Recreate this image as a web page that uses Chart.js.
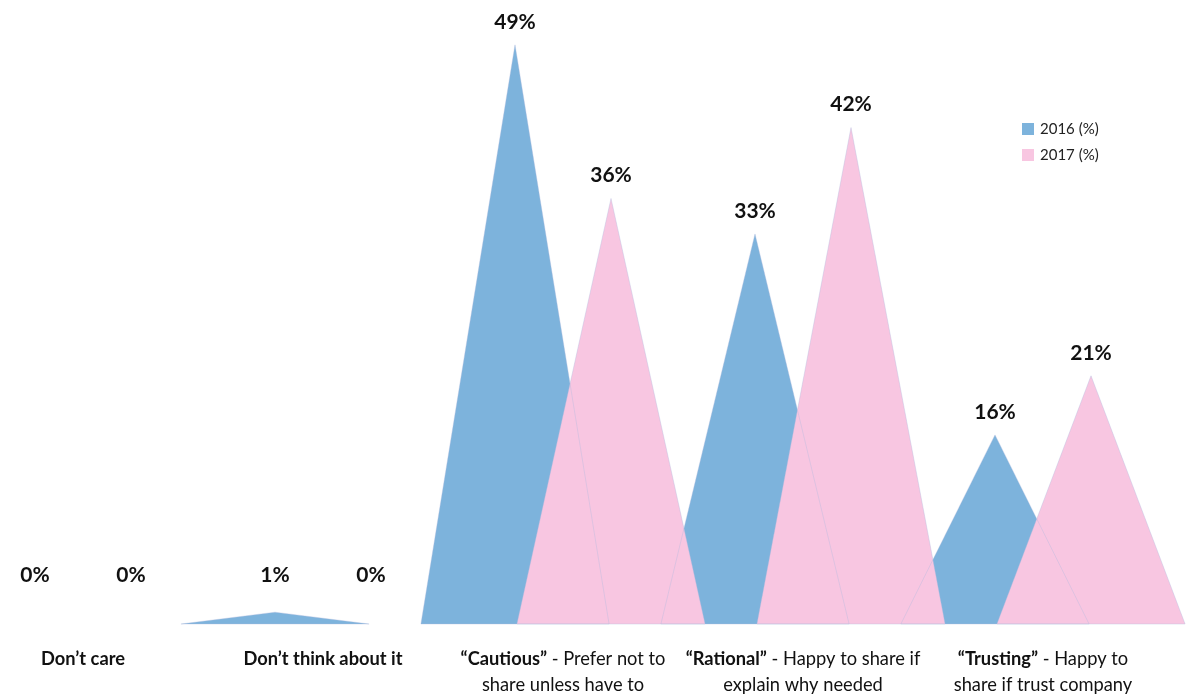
<!DOCTYPE html>
<html>
<head>
<meta charset="utf-8">
<script src="https://cdn.jsdelivr.net/npm/chart.js@4/dist/chart.umd.min.js"></script>
<style>
  html, body { margin: 0; padding: 0; background: #ffffff; }
  #wrap { width: 1190px; height: 695px; position: relative; }
</style>
</head>
<body>
<div id="wrap"><canvas id="c" width="1190" height="695"></canvas></div>
<script>
// ---- Data ----
const categories = ["Don’t care", "Don’t think about it", "Cautious", "Rational", "Trusting"];
const categoryBold = ["Don’t care", "Don’t think about it", "“Cautious”", "“Rational”", "“Trusting”"];
const categoryLine1Rest = ["", "", " - Prefer not to", " - Happy to share if", " - Happy to"];
const categoryLine2 = ["", "", "share unless have to", "explain why needed", "share if trust company"];
const seriesLabels = ["2016 (%)", "2017 (%)"];
const values2016 = [0, 1, 49, 33, 16];
const values2017 = [0, 0, 36, 42, 21];

const BLUE = "#7db3dc";
const PINK = "#f8c6e1";
const FONT = "Lato, 'Open Sans', sans-serif";
const LABEL_PX = 18.3;

function triPath(ctx, el) {
  const half = el.width * 0.98;
  ctx.beginPath();
  ctx.moveTo(el.x - half, el.base);
  ctx.lineTo(el.x, el.y);
  ctx.lineTo(el.x + half, el.base);
  ctx.closePath();
}

const trianglePlugin = {
  id: "triangles",
  beforeDatasetDraw() { return false; },
  afterDatasetsDraw(chart) {
    const ctx = chart.ctx;
    ctx.save();
    const metas = [chart.getDatasetMeta(0), chart.getDatasetMeta(1)];
    const colors = [BLUE, PINK];
    metas.forEach((meta, di) => {
      meta.data.forEach((el) => {
        if (Math.abs(el.base - el.y) < 0.5) return;
        triPath(ctx, el);
        ctx.fillStyle = colors[di];
        ctx.fill();
      });
    });
    // faint outlines
    ctx.lineWidth = 0.8;
    ctx.strokeStyle = "rgba(175,185,220,0.45)";
    metas.forEach((meta) => {
      meta.data.forEach((el) => {
        if (Math.abs(el.base - el.y) < 0.5) return;
        triPath(ctx, el);
        ctx.stroke();
      });
    });

    // value labels
    ctx.fillStyle = "#111111";
    ctx.font = "bold 21px " + FONT;
    ctx.textAlign = "center";
    ctx.textBaseline = "middle";
    metas.forEach((meta, di) => {
      const vals = di === 0 ? values2016 : values2017;
      meta.data.forEach((el, i) => {
        const y = Math.min(el.y - 23, el.base - 49);
        ctx.fillText(vals[i] + "%", el.x, y);
      });
    });

    // category labels
    const xs = chart.scales.x;
    const baseY = chart.chartArea.bottom;
    categories.forEach((c, i) => {
      const cx = xs.getPixelForValue(i);
      const boldTxt = categoryBold[i];
      const rest = categoryLine1Rest[i];
      ctx.font = "bold " + LABEL_PX + "px " + FONT;
      const wb = ctx.measureText(boldTxt).width;
      ctx.font = LABEL_PX + "px " + FONT;
      const wr = ctx.measureText(rest).width;
      const x0 = cx - (wb + wr) / 2;
      const y1 = baseY + 35;
      ctx.textAlign = "left";
      ctx.font = "bold " + LABEL_PX + "px " + FONT;
      ctx.fillText(boldTxt, x0, y1);
      ctx.font = LABEL_PX + "px " + FONT;
      ctx.fillText(rest, x0 + wb, y1);
      if (categoryLine2[i]) {
        ctx.textAlign = "center";
        ctx.fillText(categoryLine2[i], cx, y1 + 26);
      }
    });

    // legend
    ctx.textAlign = "left";
    ctx.font = "15px " + FONT;
    seriesLabels.forEach((s, i) => {
      const y = 129 + i * 26;
      ctx.fillStyle = colors[i];
      ctx.fillRect(1022, y - 6, 12, 12);
      ctx.fillStyle = "#222222";
      ctx.fillText(s, 1040, y);
    });
    ctx.restore();
  }
};

new Chart(document.getElementById("c"), {
  type: "bar",
  data: {
    labels: categories,
    datasets: [
      { label: seriesLabels[0], data: values2016, backgroundColor: BLUE, clip: false },
      { label: seriesLabels[1], data: values2017, backgroundColor: PINK, clip: false }
    ]
  },
  options: {
    responsive: false,
    animation: false,
    events: [],
    layout: { padding: { left: 83, right: 147, top: 33, bottom: 71 } },
    datasets: { bar: { categoryPercentage: 0.8, barPercentage: 1.0 } },
    scales: {
      x: { type: "category", offset: false, display: false },
      y: { min: 0, max: 50, display: false }
    },
    plugins: { legend: { display: false }, tooltip: { enabled: false } }
  },
  plugins: [trianglePlugin]
});
</script>
</body>
</html>
